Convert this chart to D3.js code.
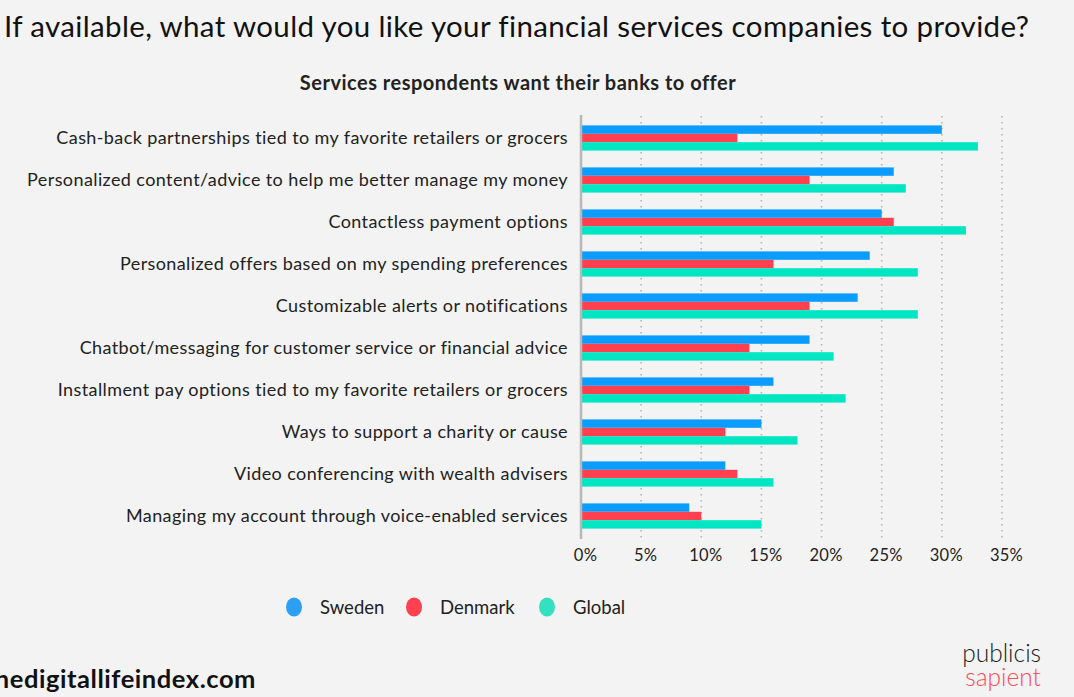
<!DOCTYPE html>
<html>
<head>
<meta charset="utf-8">
<script src="https://cdn.jsdelivr.net/npm/d3@7"></script>
<style>
  html, body { margin: 0; padding: 0; background: #f3f3f3; }
  svg { display: block; }
  text { font-family: Lato, "Noto Sans", sans-serif; }
</style>
</head>
<body>
<svg id="chart" width="1074" height="697"></svg>
<script>
// Services, top to bottom
const categories = [
  "Cash-back partnerships tied to my favorite retailers or grocers",
  "Personalized content/advice to help me better manage my money",
  "Contactless payment options",
  "Personalized offers based on my spending preferences",
  "Customizable alerts or notifications",
  "Chatbot/messaging for customer service or financial advice",
  "Installment pay options tied to my favorite retailers or grocers",
  "Ways to support a charity or cause",
  "Video conferencing with wealth advisers",
  "Managing my account through voice-enabled services"
];
const seriesNames = ["Sweden", "Denmark", "Global"];
// Share of respondents (%)
const sweden  = [30, 26, 25, 24, 23, 19, 16, 15, 12, 9];
const denmark = [13, 19, 26, 16, 19, 14, 14, 12, 13, 10];
const global  = [33, 27, 32, 28, 28, 21, 22, 18, 16, 15];
const xTicks = [0, 5, 10, 15, 20, 25, 30, 35];

const colors = { Sweden: "#0a9cff", Denmark: "#ff404f", Global: "#00e6c3" };
const legendColors = { Sweden: "#2d9ff5", Denmark: "#ff4050", Global: "#33e0c0" };

const seriesValues = { Sweden: sweden, Denmark: denmark, Global: global };
const rows = categories.map((c, i) => ({
  category: c,
  values: seriesNames.map(s => ({ series: s, value: seriesValues[s][i] }))
}));

const svg = d3.select("#chart");
svg.append("rect").attr("width", 1074).attr("height", 697).attr("fill", "#f3f3f3");

// Headline
svg.append("text")
  .attr("x", 4).attr("y", 37)
  .attr("font-size", 29.5)
  .attr("letter-spacing", 0.36)
  .attr("fill", "#111")
  .text("If available, what would you like your financial services companies to provide?");

// Chart title
svg.append("text")
  .attr("x", 518).attr("y", 90)
  .attr("text-anchor", "middle")
  .attr("font-size", 20)
  .attr("letter-spacing", 0.5)
  .attr("font-weight", 700)
  .attr("fill", "#222")
  .text("Services respondents want their banks to offer");

const x = d3.scaleLinear().domain([0, 35]).range([581, 1002]);
const y = d3.scaleBand().domain(categories).range([117, 537]).paddingInner(0.4).paddingOuter(0.2);
const ySeries = d3.scaleBand().domain(seriesNames).range([0, y.bandwidth()]).padding(0);

// Dotted vertical gridlines
svg.append("g")
  .selectAll("line")
  .data(xTicks.filter(t => t > 0))
  .join("line")
  .attr("x1", d => x(d)).attr("x2", d => x(d))
  .attr("y1", 116).attr("y2", 540)
  .attr("stroke", "#b5b5b5")
  .attr("stroke-width", 1.6)
  .attr("stroke-dasharray", "1.6,4.4");

// Bars
const groups = svg.append("g")
  .selectAll("g")
  .data(rows)
  .join("g")
  .attr("transform", d => `translate(0,${y(d.category)})`);

groups.selectAll("rect")
  .data(d => d.values)
  .join("rect")
  .attr("x", x(0))
  .attr("y", d => ySeries(d.series))
  .attr("width", d => x(d.value) - x(0))
  .attr("height", ySeries.bandwidth())
  .attr("fill", d => colors[d.series]);

// Category axis
const yAxis = svg.append("g")
  .attr("transform", `translate(${x(0)},0)`)
  .call(d3.axisLeft(y).tickSize(0).tickPadding(13));
yAxis.select(".domain").attr("stroke", "#b8b8b8").attr("stroke-width", 2.5)
  .attr("d", "M0,115V539");
yAxis.selectAll("text")
  .attr("font-family", "Lato, 'Noto Sans', sans-serif")
  .attr("font-size", 18)
  .attr("letter-spacing", 0.4)
  .attr("fill", "#222");

// Value axis
const xAxis = svg.append("g")
  .attr("transform", "translate(4,540)")
  .call(d3.axisBottom(x).tickValues(xTicks).tickFormat(d => d + "%").tickSize(0).tickPadding(9));
xAxis.select(".domain").remove();
xAxis.selectAll("text")
  .attr("font-family", "Lato, 'Noto Sans', sans-serif")
  .attr("font-size", 16.5)
  .attr("letter-spacing", 0.3)
  .attr("fill", "#222");

// Legend
const legendItems = [
  { name: "Sweden", cx: 294, tx: 320 },
  { name: "Denmark", cx: 414, tx: 440 },
  { name: "Global", cx: 547, tx: 573 }
];
const legend = svg.append("g");
legend.selectAll("ellipse")
  .data(legendItems)
  .join("ellipse")
  .attr("cx", d => d.cx).attr("cy", 607)
  .attr("rx", 8).attr("ry", 9.5)
  .attr("fill", d => legendColors[d.name]);
legend.selectAll("text")
  .data(legendItems)
  .join("text")
  .attr("x", d => d.tx).attr("y", 614)
  .attr("font-size", 18.5)
  .attr("fill", "#222")
  .text(d => d.name);

// Footer
svg.append("text")
  .attr("x", 256).attr("y", 688)
  .attr("text-anchor", "end")
  .attr("font-size", 25.5)
  .attr("letter-spacing", 0.55)
  .attr("font-weight", 700)
  .attr("fill", "#111")
  .text("thedigitallifeindex.com");

svg.append("text")
  .attr("x", 1041).attr("y", 662)
  .attr("text-anchor", "end")
  .attr("font-size", 24.5)
  .attr("font-weight", 300)
  .attr("fill", "#1a1a1a")
  .text("publicis");
svg.append("text")
  .attr("x", 1041).attr("y", 686)
  .attr("text-anchor", "end")
  .attr("font-size", 24.5)
  .attr("font-weight", 300)
  .attr("fill", "#ff4a55")
  .text("sapient");
</script>
</body>
</html>
